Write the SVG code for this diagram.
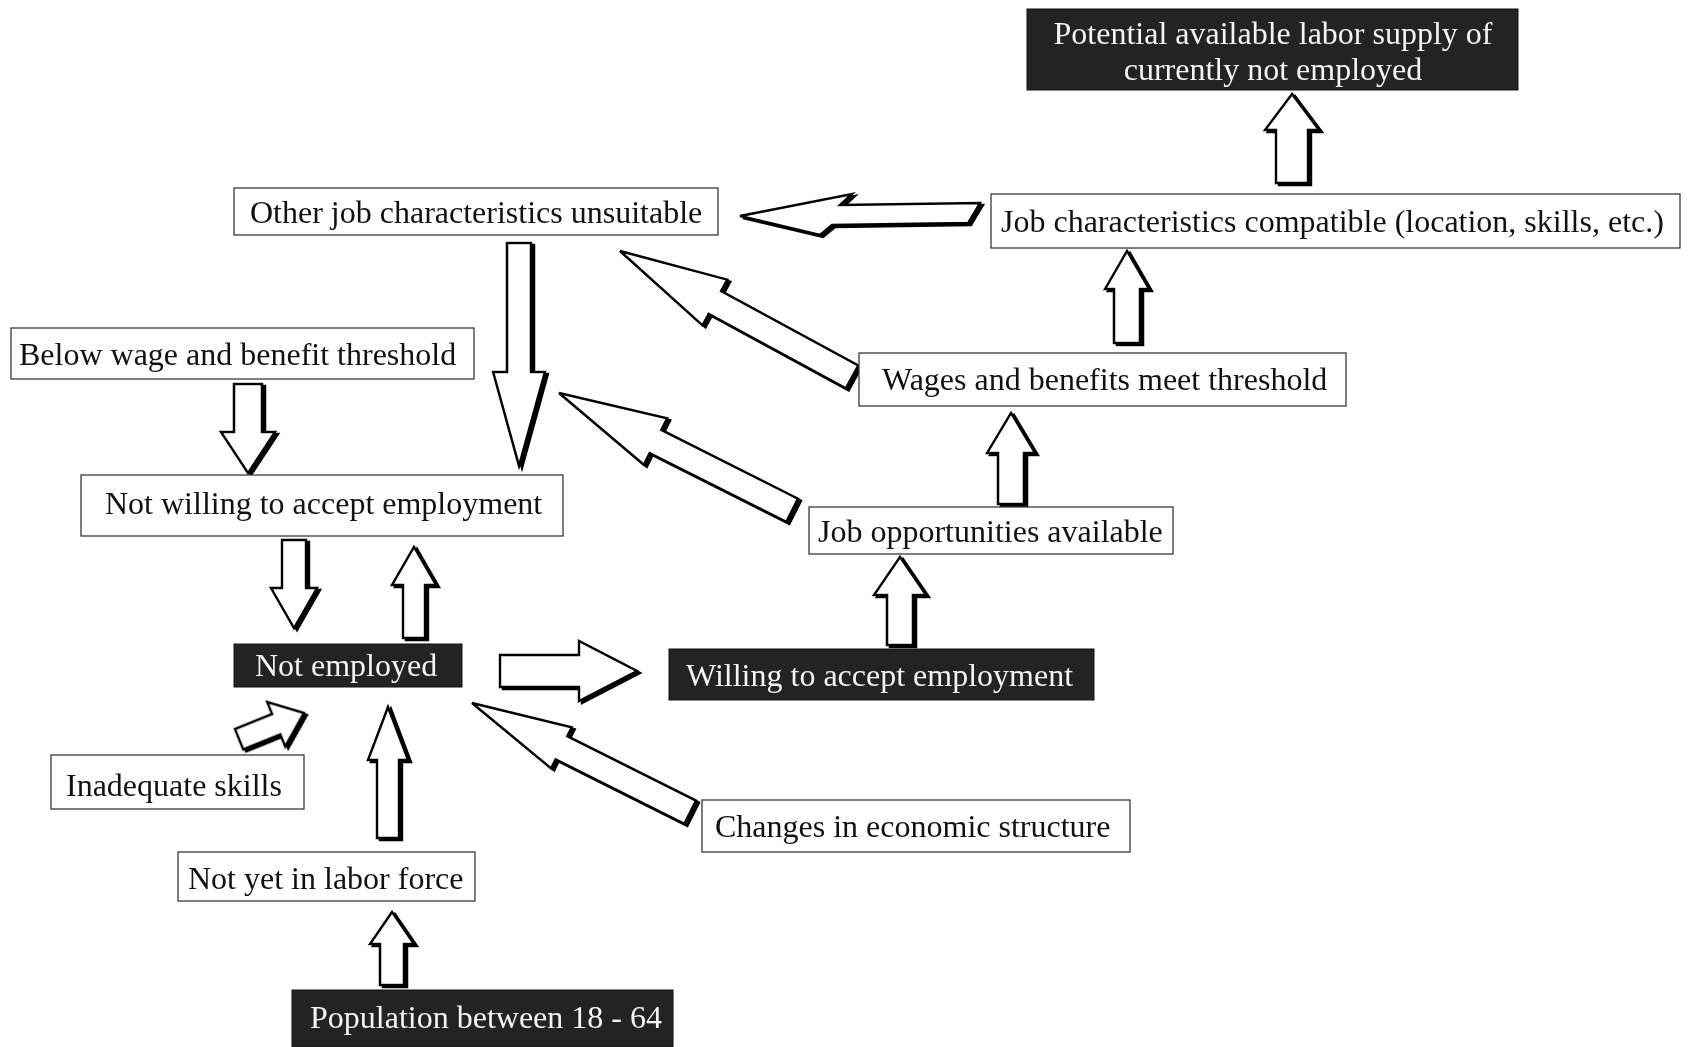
<svg xmlns="http://www.w3.org/2000/svg" width="1692" height="1047" viewBox="0 0 1692 1047">
  <defs>
    <style>
      .box { fill: #ffffff; stroke: #3a3a3a; stroke-width: 1.3; }
      .dark { fill: #232323; stroke: #111; stroke-width: 1; }
      .lbl { font-family: "Liberation Serif", "Times New Roman", serif; font-size: 32px; fill: #111; }
      .inv { fill: #f4f4f4; }
      .arrow { fill: #ffffff; stroke: #000; stroke-width: 2.4; stroke-linejoin: miter; }
    </style>
    <!-- offset silhouette gives the block arrows their heavy shaded edge -->
    <filter id="shade" filterUnits="userSpaceOnUse" x="0" y="0" width="1692" height="1047">
      <feOffset in="SourceAlpha" dx="3" dy="2" result="off"/>
      <feMerge>
        <feMergeNode in="off"/>
        <feMergeNode in="SourceGraphic"/>
      </feMerge>
    </filter>
  </defs>

  <rect width="1692" height="1047" fill="#ffffff"/>

  <!-- block arrows: local frame points along +x with the tip at the origin -->
  <g id="connectors" filter="url(#shade)">
    <polygon class="arrow" transform="translate(1292,94) rotate(-90)" points="-89,-16 -36,-16 -36,-27 0,0 -36,27 -36,16 -89,16"/>
    <polygon class="arrow" points="740,216 852,194 840,205 980,203 968,223 832,225 820,235"/>
    <polygon class="arrow" transform="translate(519,466) rotate(90)" points="-223,-12 -94,-12 -94,-26 0,0 -94,26 -94,12 -223,12"/>
    <polygon class="arrow" transform="translate(620,251) rotate(208.5)" points="-264,-13 -108,-13 -108,-26 0,0 -108,26 -108,13 -264,13"/>
    <polygon class="arrow" transform="translate(559,393) rotate(206.7)" points="-261,-13 -108,-13 -108,-26 0,0 -108,26 -108,13 -261,13"/>
    <polygon class="arrow" transform="translate(1011,413) rotate(-90)" points="-91,-13 -40,-13 -40,-24 0,0 -40,24 -40,13 -91,13"/>
    <polygon class="arrow" transform="translate(1127,251) rotate(-90)" points="-92,-13 -38,-13 -38,-22 0,0 -38,22 -38,13 -92,13"/>
    <polygon class="arrow" transform="translate(248,473) rotate(90)" points="-89,-14 -41,-14 -41,-27 0,0 -41,27 -41,14 -89,14"/>
    <polygon class="arrow" transform="translate(294,628) rotate(90)" points="-88,-12 -40,-12 -40,-23 0,0 -40,23 -40,12 -88,12"/>
    <polygon class="arrow" transform="translate(414,547) rotate(-90)" points="-91,-11 -38,-11 -38,-22 0,0 -38,22 -38,11 -91,11"/>
    <polygon class="arrow" transform="translate(637,671)" points="-137,-16 -58,-16 -58,-30 0,0 -58,30 -58,16 -137,16"/>
    <polygon class="arrow" transform="translate(900,557) rotate(-90)" points="-88,-13 -38,-13 -38,-26 0,0 -38,26 -38,13 -88,13"/>
    <polygon class="arrow" transform="translate(304,713) rotate(-22)" points="-70,-11 -30,-11 -30,-24 0,0 -30,24 -30,11 -70,11"/>
    <polygon class="arrow" transform="translate(388,707) rotate(-90)" points="-131,-11 -53,-11 -53,-20 0,0 -53,20 -53,11 -131,11"/>
    <polygon class="arrow" transform="translate(472,703) rotate(206.6)" points="-244,-13 -100,-13 -100,-23 0,0 -100,23 -100,13 -244,13"/>
    <polygon class="arrow" transform="translate(392,912) rotate(-90)" points="-73,-12 -32,-12 -32,-22 0,0 -32,22 -32,12 -73,12"/>
  </g>

  <g id="potential-supply">
    <rect class="dark" x="1027" y="9" width="491" height="81"/>
    <text class="lbl inv" x="1273" y="44" text-anchor="middle">Potential available labor supply of</text>
    <text class="lbl inv" x="1273" y="80" text-anchor="middle">currently not employed</text>
  </g>

  <g id="job-compatible">
    <rect class="box" x="991" y="194" width="689" height="54"/>
    <text class="lbl" x="1001" y="232">Job characteristics compatible (location, skills, etc.)</text>
  </g>

  <g id="other-unsuitable">
    <rect class="box" x="234" y="188" width="484" height="47"/>
    <text class="lbl" x="250" y="223">Other job characteristics unsuitable</text>
  </g>

  <g id="below-threshold">
    <rect class="box" x="11" y="328" width="463" height="51"/>
    <text class="lbl" x="19" y="365">Below wage and benefit threshold</text>
  </g>

  <g id="meet-threshold">
    <rect class="box" x="859" y="353" width="487" height="53"/>
    <text class="lbl" x="882" y="390">Wages and benefits meet threshold</text>
  </g>

  <g id="not-willing">
    <rect class="box" x="81" y="475" width="482" height="61"/>
    <text class="lbl" x="105" y="514">Not willing to accept employment</text>
  </g>

  <g id="job-opportunities">
    <rect class="box" x="809" y="507" width="364" height="47"/>
    <text class="lbl" x="818" y="542">Job opportunities available</text>
  </g>

  <g id="not-employed">
    <rect class="dark" x="234" y="644" width="228" height="43"/>
    <text class="lbl inv" x="255" y="676">Not employed</text>
  </g>

  <g id="willing">
    <rect class="dark" x="669" y="649" width="425" height="51"/>
    <text class="lbl inv" x="686" y="686">Willing to accept employment</text>
  </g>

  <g id="inadequate-skills">
    <rect class="box" x="51" y="755" width="253" height="54"/>
    <text class="lbl" x="66" y="796">Inadequate skills</text>
  </g>

  <g id="economic-change">
    <rect class="box" x="702" y="800" width="428" height="52"/>
    <text class="lbl" x="715" y="837">Changes in economic structure</text>
  </g>

  <g id="not-in-labor-force">
    <rect class="box" x="178" y="852" width="297" height="49"/>
    <text class="lbl" x="188" y="889">Not yet in labor force</text>
  </g>

  <g id="population">
    <rect class="dark" x="292" y="990" width="381" height="57"/>
    <text class="lbl inv" x="310" y="1028">Population between 18 - 64</text>
  </g>
</svg>
